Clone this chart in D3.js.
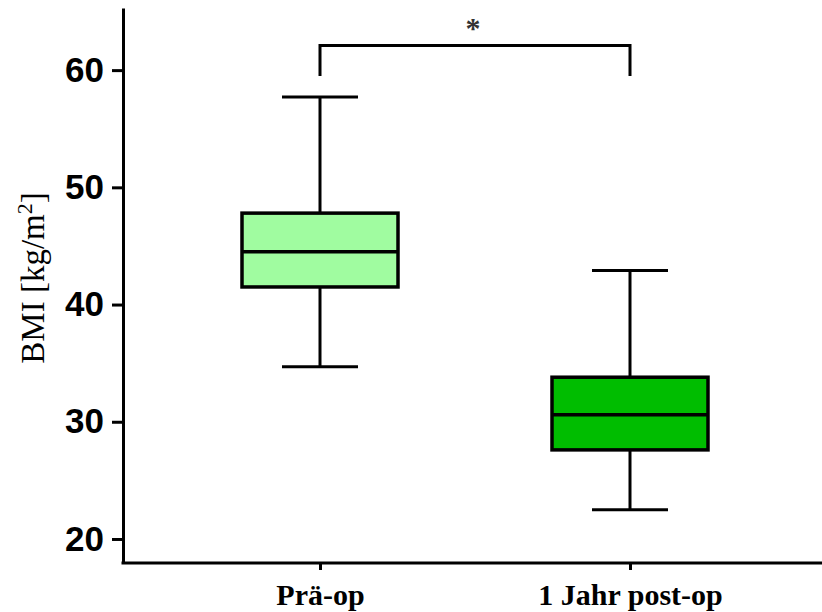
<!DOCTYPE html>
<html>
<head>
<meta charset="utf-8">
<script src="https://cdn.jsdelivr.net/npm/d3@7"></script>
<style>
  body { margin: 0; background: #fff; }
  svg { display: block; }
</style>
</head>
<body>
<svg id="chart"></svg>
<script>
// data
const categories = ["Prä-op", "1 Jahr post-op"];
const whiskerMin = [34.7, 22.5];
const q1 = [41.5, 27.6];
const median = [44.5, 30.6];
const q3 = [47.8, 33.8];
const whiskerMax = [57.7, 42.9];
const fills = ["#a0fca0", "#00bd00"];
const yTicks = [20, 30, 40, 50, 60];
const sigPair = ["Prä-op", "1 Jahr post-op"];
const sigLevel = 62.1;
const sigLabel = "*";

const W = 822, H = 612;
const svg = d3.select("#chart").attr("width", W).attr("height", H);

const axisX = 123, axisY = 563;
const y = d3.scaleLinear().domain([17.95, 65.3]).range([axisY, 8]);
const x = d3.scalePoint().domain(categories).range([320, 630]);

const boxW = 156, capW = 76;

const boxes = categories.map((c, i) => ({
    cat: c, min: whiskerMin[i], q1: q1[i], med: median[i], q3: q3[i], max: whiskerMax[i], fill: fills[i]
}));

const g = svg.append("g");

// whiskers
g.selectAll("line.whisk-up")
    .data(boxes).enter().append("line")
    .attr("x1", d => x(d.cat)).attr("x2", d => x(d.cat))
    .attr("y1", d => y(d.q3)).attr("y2", d => y(d.max))
    .attr("stroke", "#000").attr("stroke-width", 3);
g.selectAll("line.whisk-down")
    .data(boxes).enter().append("line")
    .attr("x1", d => x(d.cat)).attr("x2", d => x(d.cat))
    .attr("y1", d => y(d.q1)).attr("y2", d => y(d.min))
    .attr("stroke", "#000").attr("stroke-width", 3);
g.selectAll("line.cap-max")
    .data(boxes).enter().append("line")
    .attr("x1", d => x(d.cat) - capW / 2).attr("x2", d => x(d.cat) + capW / 2)
    .attr("y1", d => y(d.max)).attr("y2", d => y(d.max))
    .attr("stroke", "#000").attr("stroke-width", 3);
g.selectAll("line.cap-min")
    .data(boxes).enter().append("line")
    .attr("x1", d => x(d.cat) - capW / 2).attr("x2", d => x(d.cat) + capW / 2)
    .attr("y1", d => y(d.min)).attr("y2", d => y(d.min))
    .attr("stroke", "#000").attr("stroke-width", 3);

// boxes
g.selectAll("rect.box")
    .data(boxes).enter().append("rect")
    .attr("x", d => x(d.cat) - boxW / 2)
    .attr("width", boxW)
    .attr("y", d => y(d.q3))
    .attr("height", d => y(d.q1) - y(d.q3))
    .attr("fill", d => d.fill)
    .attr("stroke", "#000").attr("stroke-width", 3.5);
g.selectAll("line.median")
    .data(boxes).enter().append("line")
    .attr("x1", d => x(d.cat) - boxW / 2).attr("x2", d => x(d.cat) + boxW / 2)
    .attr("y1", d => y(d.med)).attr("y2", d => y(d.med))
    .attr("stroke", "#000").attr("stroke-width", 3.5);

// y axis
const yAxis = svg.append("g")
    .attr("transform", `translate(${axisX},0)`)
    .call(d3.axisLeft(y).tickValues(yTicks).tickSize(11).tickSizeOuter(0).tickPadding(8));
yAxis.select(".domain").attr("stroke-width", 3);
yAxis.selectAll(".tick line").attr("stroke-width", 3);
yAxis.selectAll(".tick text")
    .attr("font-family", "Liberation Sans, Arial, sans-serif")
    .attr("font-weight", "bold")
    .attr("font-size", 35)
    .attr("fill", "#000");

// x axis
const xAxis = svg.append("g")
    .attr("transform", `translate(0,${axisY})`)
    .call(d3.axisBottom(x).tickSize(7).tickSizeOuter(0).tickPadding(14));
xAxis.select(".domain").remove();
xAxis.insert("line", ":first-child")
    .attr("x1", axisX - 1.5).attr("x2", W)
    .attr("y1", 0).attr("y2", 0)
    .attr("stroke", "#000").attr("stroke-width", 3);
xAxis.selectAll(".tick line").attr("stroke-width", 3);
xAxis.selectAll(".tick text")
    .attr("font-family", "Liberation Serif, Times New Roman, serif")
    .attr("font-weight", "bold")
    .attr("font-size", 30)
    .attr("fill", "#000");

// y label
const yl = svg.append("text")
    .attr("transform", "translate(44,278) rotate(-90)")
    .attr("text-anchor", "middle")
    .attr("font-family", "Liberation Serif, Times New Roman, serif")
    .attr("font-size", 33)
    .attr("fill", "#000");
yl.append("tspan").text("BMI [kg/m");
yl.append("tspan").attr("font-size", 22).attr("dy", -12).text("2");
yl.append("tspan").attr("dy", 12).text("]");

// significance bracket
const legLow = 59.5;
svg.append("path")
    .attr("d", d3.line()([
        [x(sigPair[0]), y(legLow)],
        [x(sigPair[0]), y(sigLevel)],
        [x(sigPair[1]), y(sigLevel)],
        [x(sigPair[1]), y(legLow)]
    ]))
    .attr("fill", "none").attr("stroke", "#000").attr("stroke-width", 3);
svg.append("text")
    .attr("x", (x(sigPair[0]) + x(sigPair[1])) / 2 - 2)
    .attr("y", y(sigLevel) - 8)
    .attr("text-anchor", "middle")
    .attr("font-family", "Liberation Serif, Times New Roman, serif")
    .attr("font-weight", "bold")
    .attr("font-size", 30)
    .attr("fill", "#333")
    .text(sigLabel);
</script>
</body>
</html>
